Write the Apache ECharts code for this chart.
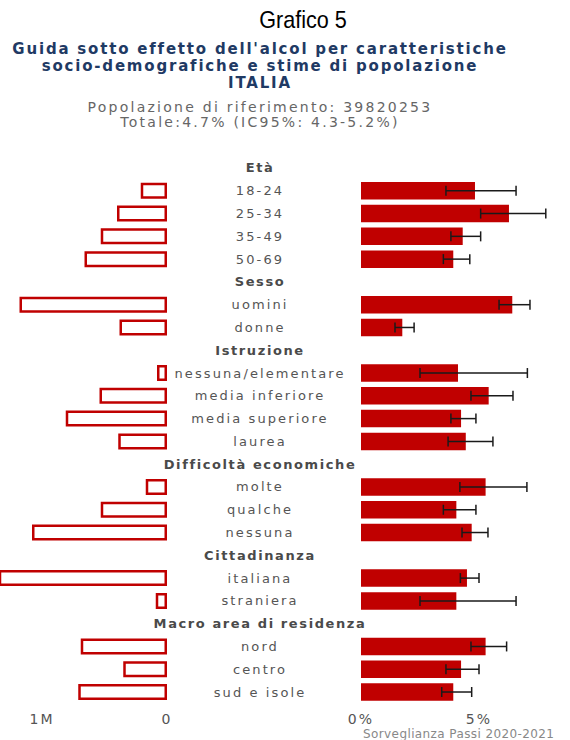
<!DOCTYPE html>
<html>
<head>
<meta charset="utf-8">
<script src="https://cdn.jsdelivr.net/npm/echarts@6/dist/echarts.min.js"></script>
<style>
html, body { margin: 0; padding: 0; background: #fff; }
#chart { width: 570px; height: 740px; }
#chart text { letter-spacing: 2.1px; }
#chart text[style*="bold"] { letter-spacing: 1.6px; }
#chart text[style*="Tahoma"] { letter-spacing: 1.8px; }
#chart text[style*="Verdana"] { letter-spacing: 2.25px; }
#chart text[style*="Arial"] { letter-spacing: 0.4px; }
#chart text[style*="Liberation"] { letter-spacing: 0; }
</style>
</head>
<body>
<div id="chart"></div>
<script>
// dati
var categorie = ['Età', '18-24', '25-34', '35-49', '50-69',
    'Sesso', 'uomini', 'donne',
    'Istruzione', 'nessuna/elementare', 'media inferiore', 'media superiore', 'laurea',
    'Difficoltà economiche', 'molte', 'qualche', 'nessuna',
    'Cittadinanza', 'italiana', 'straniera',
    'Macro area di residenza', 'nord', 'centro', 'sud e isole'];
var intestazioni = ['Età', 'Sesso', 'Istruzione', 'Difficoltà economiche', 'Cittadinanza', 'Macro area di residenza'];
var popolazione = [null, 210000, 400000, 530000, 660000,
    null, 1180000, 380000,
    null, 80000, 540000, 810000, 390000,
    null, 170000, 530000, 1080000,
    null, 1700000, 90000,
    null, 690000, 350000, 710000];
var prevalenza = [null, 4.83, 6.27, 4.31, 3.91,
    null, 6.41, 1.75,
    null, 4.11, 5.41, 4.24, 4.44,
    null, 5.28, 4.04, 4.69,
    null, 4.49, 4.04,
    null, 5.28, 4.24, 3.91];
var icInf = [null, 3.6, 5.07, 3.81, 3.49,
    null, 5.85, 1.44,
    null, 2.5, 4.66, 3.81, 3.69,
    null, 4.19, 3.49, 4.28,
    null, 4.21, 2.5,
    null, 4.66, 3.6, 3.42];
var icSup = [null, 6.57, 7.83, 5.07, 4.61,
    null, 7.16, 2.25,
    null, 7.05, 6.44, 4.87, 5.59,
    null, 7.03, 4.87, 5.38,
    null, 5.0, 6.57,
    null, 6.17, 5.0, 4.69];

var rosso = '#C00000';
var top0 = 156.6, alt = 546.8;

var etichette = categorie.map(function (c) {
    if (intestazioni.indexOf(c) >= 0) {
        return { value: c, textStyle: { fontWeight: 'bold', color: '#4a4a4a', fontSize: 13, align: 'center' } };
    }
    return c;
});

var errori = [];
categorie.forEach(function (c, i) {
    if (icInf[i] != null) errori.push([icInf[i], icSup[i], i]);
});

function renderErrore(params, api) {
    var y = api.value(2);
    var p1 = api.coord([api.value(0), y]);
    var p2 = api.coord([api.value(1), y]);
    var h = 5;
    var st = { stroke: '#1a1a1a', lineWidth: 1.5 };
    return {
        type: 'group',
        children: [
            { type: 'line', shape: { x1: p1[0], y1: p1[1], x2: p2[0], y2: p2[1] }, style: st },
            { type: 'line', shape: { x1: p1[0], y1: p1[1] - h, x2: p1[0], y2: p1[1] + h }, style: st },
            { type: 'line', shape: { x1: p2[0], y1: p2[1] - h, x2: p2[0], y2: p2[1] + h }, style: st }
        ]
    };
}

var myChart = echarts.init(document.getElementById('chart'), null, { renderer: 'svg' });

var nascondi = { axisLine: { show: false }, axisTick: { show: false }, splitLine: { show: false } };
var blu = '#1F3A64';

var option = {
    animation: false,
    textStyle: { fontFamily: 'DejaVu Sans' },
    graphic: [
        { type: 'text', x: 303, y: 20, scaleX: 0.9, style: { text: 'Grafico 5', font: '24px "Liberation Sans"', fill: '#000', align: 'center', verticalAlign: 'middle' } },
        { type: 'text', x: 260, y: 49, style: { text: "Guida sotto effetto dell'alcol per caratteristiche", font: 'bold 15px "DejaVu Sans", Tahoma', fill: blu, align: 'center', verticalAlign: 'middle' } },
        { type: 'text', x: 260, y: 66, style: { text: 'socio-demografiche e stime di popolazione', font: 'bold 15px "DejaVu Sans", Tahoma', fill: blu, align: 'center', verticalAlign: 'middle' } },
        { type: 'text', x: 260, y: 83, style: { text: 'ITALIA', font: 'bold 15px "DejaVu Sans", Tahoma', fill: blu, align: 'center', verticalAlign: 'middle' } },
        { type: 'text', x: 260, y: 107, style: { text: 'Popolazione di riferimento: 39820253', font: '14px "DejaVu Sans", Verdana', fill: '#666', align: 'center', verticalAlign: 'middle' } },
        { type: 'text', x: 260, y: 122, style: { text: 'Totale:4.7% (IC95%: 4.3-5.2%)', font: '14px "DejaVu Sans", Verdana', fill: '#666', align: 'center', verticalAlign: 'middle' } },
        { type: 'text', x: 363, y: 734, style: { text: 'Sorveglianza Passi 2020-2021', font: '12px "DejaVu Sans", Arial', fill: '#888', align: 'left', verticalAlign: 'middle' } }
    ],
    grid: [
        { left: 0, top: top0, width: 167, height: alt, outerBoundsMode: 'none' },
        { left: 361, top: top0, width: 212.4, height: alt, outerBoundsMode: 'none' },
        { left: 260, top: top0, width: 1, height: alt, outerBoundsMode: 'none' }
    ],
    xAxis: [
        Object.assign({
            gridIndex: 0, type: 'value', inverse: true, min: 0, max: 1336000, interval: 1000000,
            axisLabel: {
                color: '#555', fontSize: 14, margin: 9,
                formatter: function (v) { return v === 0 ? '0' : (v === 1000000 ? '1M' : ''); }
            }
        }, nascondi),
        Object.assign({
            gridIndex: 1, type: 'value', min: 0, max: 9, interval: 5,
            axisLabel: {
                color: '#555', fontSize: 14, margin: 9,
                formatter: function (v) { return v === 0 ? '0%' : (v === 5 ? '5%' : ''); }
            }
        }, nascondi),
        Object.assign({ gridIndex: 2, type: 'value', show: false }, nascondi)
    ],
    yAxis: [
        Object.assign({ gridIndex: 0, type: 'category', inverse: true, data: categorie, axisLabel: { show: false } }, nascondi),
        Object.assign({ gridIndex: 1, type: 'category', inverse: true, data: categorie, axisLabel: { show: false } }, nascondi),
        Object.assign({
            gridIndex: 2, type: 'category', inverse: true, data: etichette,
            axisLabel: { interval: 0, align: 'center', margin: 0, color: '#555', fontSize: 13 }
        }, nascondi)
    ],
    series: [
        {
            type: 'bar', xAxisIndex: 0, yAxisIndex: 0, data: popolazione, barWidth: 16, clip: true,
            itemStyle: { color: '#fff', borderColor: rosso, borderWidth: 2.5 }
        },
        {
            type: 'bar', xAxisIndex: 1, yAxisIndex: 1, data: prevalenza, barWidth: 17.5,
            itemStyle: { color: rosso }
        },
        {
            type: 'custom', xAxisIndex: 1, yAxisIndex: 1, data: errori,
            encode: { x: [0, 1], y: 2 }, renderItem: renderErrore, z: 5
        }
    ]
};

myChart.setOption(option);
window.addEventListener('resize', function () {
    myChart.resize();
});
</script>
</body>
</html>
